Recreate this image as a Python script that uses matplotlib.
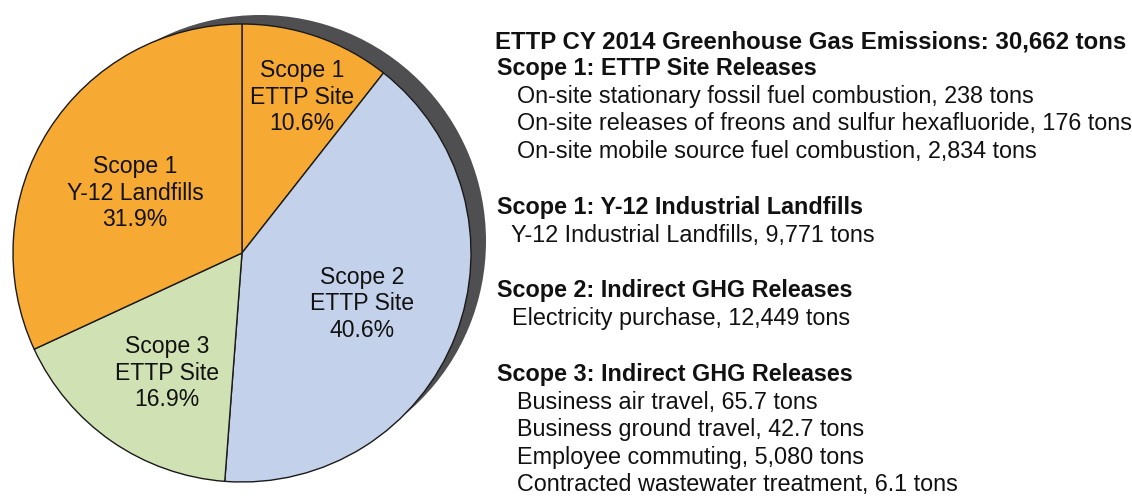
import matplotlib
matplotlib.use('Agg')
import matplotlib.pyplot as plt
from matplotlib.patches import Circle

# ---- data ----
slice_labels = ['Scope 1\nETTP Site', 'Scope 2\nETTP Site', 'Scope 3\nETTP Site', 'Scope 1\nY-12 Landfills']
slice_shares = [10.6, 40.6, 16.9, 31.9]
slice_colors = ['#F6AA34', '#C3D2EA', '#D0E1B4', '#F6AA34']

title_text = 'ETTP CY 2014 Greenhouse Gas Emissions: 30,662 tons'
group_headers = ['Scope 1: ETTP Site Releases',
                 'Scope 1: Y-12 Industrial Landfills',
                 'Scope 2: Indirect GHG Releases',
                 'Scope 3: Indirect GHG Releases']
group_items = [
    ['On-site stationary fossil fuel combustion, 238 tons',
     'On-site releases of freons and sulfur hexafluoride, 176 tons',
     'On-site mobile source fuel combustion, 2,834 tons'],
    ['Y-12 Industrial Landfills, 9,771 tons'],
    ['Electricity purchase, 12,449 tons'],
    ['Business air travel, 65.7 tons',
     'Business ground travel, 42.7 tons',
     'Employee commuting, 5,080 tons',
     'Contracted wastewater treatment, 6.1 tons'],
]

# ---- layout (pixels) ----
W, H = 1132, 496
FONT = 'Liberation Sans'
FS_PIE = 16.6
FS = 16.8
FS_TITLE = 17.3
fig = plt.figure(figsize=(W / 100, H / 100), dpi=100)
ax = fig.add_axes([0, 0, 1, 1])

cx, cy, r = 242, 253, 229
# shadow behind pie
ax.add_patch(Circle((cx + 18, H - (cy - 12)), r - 3, facecolor='#4f4f51',
                    edgecolor='none', zorder=0))

wedges, _ = ax.pie(slice_shares, colors=slice_colors, startangle=90,
                   counterclock=False, center=(cx, H - cy), radius=r,
                   wedgeprops=dict(edgecolor='#1a1a1a', linewidth=1.0))
for w in wedges:
    w.set_zorder(2)

label_pos = [(302, 97), (362, 304), (167, 373), (135, 193)]
for (lx, ly), pct, lab in zip(label_pos, slice_shares, slice_labels):
    ax.text(lx, H - ly, f'{lab}\n{pct:.1f}%', ha='center', va='center',
            multialignment='center', fontsize=FS_PIE, family=FONT,
            color='#111111', zorder=3)

# right-hand text block
ax.text(495, H - 48, title_text, fontsize=FS_TITLE, fontweight='bold', family=FONT,
        va='baseline', ha='left', color='#111111')
header_base = [75, 214, 297, 381]
item_x = [517, 511, 512, 517]
step = 27.6
for hdr, items, yb, ix in zip(group_headers, group_items, header_base, item_x):
    ax.text(497, H - yb, hdr, fontsize=FS, fontweight='bold', family=FONT,
            va='baseline', ha='left', color='#111111')
    for k, it in enumerate(items):
        ax.text(ix, H - (yb + step * (k + 1)), it, fontsize=FS, family=FONT,
                va='baseline', ha='left', color='#111111')

ax.set_xlim(0, W)
ax.set_ylim(0, H)
ax.set_aspect('equal')
ax.axis('off')
fig.savefig('out.png', dpi=100, facecolor='white')
